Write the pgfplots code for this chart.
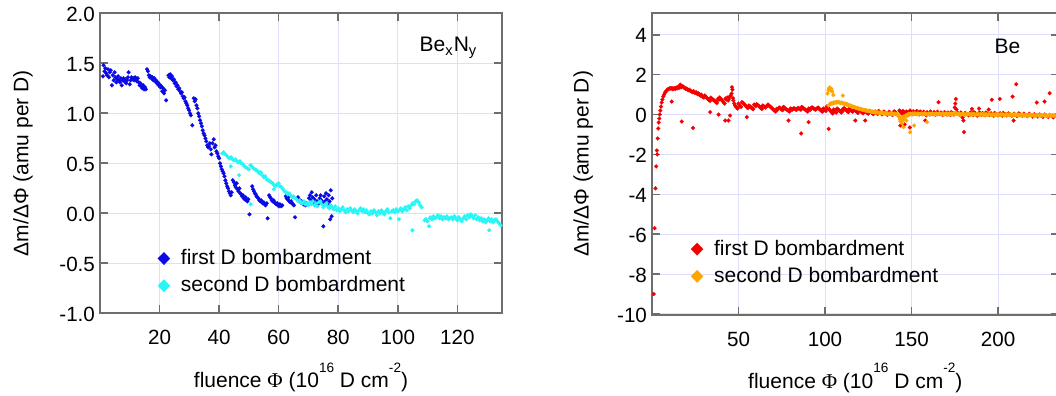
\documentclass[border=0pt]{standalone}
\usepackage{fontspec}
\setmainfont{Liberation Sans}
\newfontfamily\seriffont{Liberation Serif}
\usepackage{pgfplots}
\pgfplotsset{compat=1.18}
\definecolor{cBlue}{RGB}{10,10,230}
\definecolor{cCyan}{RGB}{40,245,245}
\definecolor{cRed}{RGB}{245,0,0}
\definecolor{cOrange}{RGB}{255,165,0}
\definecolor{axgray}{RGB}{110,110,110}
\definecolor{gridc}{RGB}{222,222,255}
\newcommand{\fs}{\fontsize{10.3}{12.4}\selectfont}
\newcommand{\fl}{\fontsize{10.5}{12.6}\selectfont}
\newcommand{\sups}[1]{\raisebox{0.76em}{\fontsize{6.8}{7}\selectfont #1}}
\pgfplotsset{
  myaxis/.style={
    scale only axis, anchor=south west,
    tick align=inside, major tick length=4pt,
    axis line style={draw=axgray, line width=0.9pt},
    every tick/.style={draw=axgray, line width=0.8pt},
    grid=major, major grid style={draw=gridc, line width=0.5pt},
    /pgf/number format/assume math mode=true,
    tick label style={font=\fs},
    xticklabel style={yshift=-5pt},
    yticklabel style={xshift=1pt, yshift=-0.5pt},
    label style={font=\fl},
    legend style={font=\fl, draw=none, fill=none, inner sep=0pt, row sep=2.5pt,
      nodes={inner sep=1pt}},
    legend cell align=left,
    legend image code/.code={\path[#1] plot[mark size=3.1pt] coordinates {(0pt,0pt)};
      \path[draw=none, fill=none] (0pt,0pt) (7.5pt,0pt);},
    xlabel={fluence {\seriffont Φ} (10\sups{16} D cm\sups{-2})},
    ylabel={Δm/ΔΦ (amu per D)},
  },
  pts/.style={only marks, mark=diamond*, mark size=1.0pt, color=#1,
    mark options={xscale=1.3, line width=0.1pt}},
}
\begin{document}
\begin{tikzpicture}
% ---------------- left panel ----------------
\begin{axis}[myaxis,
  at={(50pt,41.35pt)}, width=201pt, height=150pt,
  xmin=0, xmax=135, ymin=-1.0, ymax=2.0,
  xtick={20,40,60,80,100,120},
  ytick={-1.0,-0.5,0,0.5,1.0,1.5,2.0},
  yticklabel style={/pgf/number format/.cd, fixed, fixed zerofill, precision=1},
  xlabel style={at={(axis description cs:0.5,-0.249)}, anchor=base},
  ylabel style={at={(axis description cs:-0.1915,0.5)}, anchor=center},
  legend style={at={(axis description cs:0.143,0.221)}, anchor=north west},
]
\addplot[pts=cBlue] coordinates {
(1.0,1.37)(1.2,1.48)(1.5,1.42)(1.8,1.45)(2.1,1.40)(2.4,1.38)(2.7,1.44)(3.0,1.36)(3.3,1.41)(3.6,1.43)
(4.0,1.28)(4.3,1.38)(4.6,1.33)(4.9,1.41)(5.2,1.36)(5.5,1.31)(5.8,1.34)(6.1,1.37)(6.4,1.33)(6.7,1.31)
(7.0,1.35)(7.3,1.28)(7.6,1.33)(7.9,1.35)(8.2,1.32)(8.5,1.34)(8.8,1.30)(9.1,1.33)(9.4,1.36)(9.6,1.41)
(10.0,1.29)(10.3,1.33)(10.6,1.36)(10.9,1.34)(11.2,1.35)(11.5,1.33)(11.8,1.36)(12.1,1.34)(12.4,1.32)(12.7,1.35)
(13.0,1.31)(13.3,1.28)(13.6,1.30)(13.9,1.27)(14.2,1.25)(14.5,1.28)(14.8,1.24)(15.1,1.26)(15.4,1.24)
(15.8,1.44)(16.1,1.42)(16.4,1.38)(16.7,1.36)(17.0,1.37)(17.3,1.35)(17.6,1.36)(17.9,1.33)(18.2,1.35)(18.5,1.32)
(18.8,1.33)(19.1,1.30)(19.4,1.31)(19.7,1.28)(20.0,1.29)(20.3,1.26)(20.6,1.27)(20.9,1.22)(21.2,1.25)(21.5,1.20)
(21.8,1.23)(22.2,1.13)
(23.0,1.38)(23.3,1.36)(23.6,1.39)(23.9,1.35)(24.2,1.37)(24.5,1.33)(24.8,1.34)(25.1,1.30)(25.4,1.31)(25.7,1.27)
(26.0,1.28)(26.3,1.24)(26.6,1.25)(26.9,1.22)(27.2,1.20)(27.5,1.21)(27.8,1.17)(28.1,1.15)(28.4,1.16)(28.7,1.12)
(29.0,1.10)(29.3,1.08)(29.6,1.05)(29.9,1.03)(30.2,1.00)(30.5,0.98)(31.0,0.88)(31.5,1.15)(31.8,1.12)(32.1,1.14)
(32.4,1.08)(32.7,1.05)(33.0,1.00)(33.3,0.97)(33.6,0.93)(33.9,0.90)(34.2,0.87)(34.5,0.83)(34.8,0.80)(35.1,0.78)
(35.4,0.75)(35.7,0.72)(36.0,0.68)(36.3,0.66)(36.6,0.67)(36.9,0.70)(37.2,0.64)(37.4,0.59)(37.8,0.70)(38.2,0.74)
(38.5,0.66)(38.8,0.68)(39.1,0.62)(39.4,0.60)(39.7,0.57)(40.0,0.55)(40.3,0.50)(40.6,0.47)(40.9,0.44)(41.2,0.42)
(41.5,0.40)(41.8,0.37)(42.1,0.33)(42.4,0.30)(42.7,0.27)(43.0,0.25)(43.3,0.22)(43.6,0.20)(43.9,0.18)(44.2,0.21)
(44.6,0.33)(45.0,0.31)(45.3,0.28)(45.6,0.26)(45.9,0.30)(46.2,0.24)(46.5,0.22)(46.8,0.25)(47.1,0.20)(47.4,0.19)
(47.7,0.17)(48.0,0.18)(48.3,0.15)(48.6,0.14)(48.9,0.16)(49.2,0.13)(49.5,0.12)(49.8,0.14)(50.2,-0.01)
(51.1,0.27)(51.4,0.24)(51.7,0.22)(52.0,0.20)(52.3,0.19)(52.6,0.17)(52.9,0.16)(53.2,0.15)(53.5,0.13)(53.8,0.12)
(54.1,0.13)(54.4,0.11)(54.7,0.10)(55.0,0.11)(55.3,0.09)(55.6,0.08)(56.0,0.10)(56.3,-0.05)
(56.8,0.18)(57.1,0.16)(57.4,0.15)(57.7,0.13)(58.0,0.12)(58.3,0.13)(58.6,0.11)(58.9,0.10)(59.2,0.09)(59.5,0.10)
(59.8,0.08)(60.1,0.07)(60.4,0.09)(60.8,0.07)(61.2,0.08)
(62.4,0.17)(62.7,0.15)(63.0,0.14)(63.3,0.16)(63.6,0.12)(63.9,0.11)(64.2,0.12)(64.5,0.10)(64.8,0.09)(65.1,0.08)(65.5,-0.04)
(66.5,0.16)(66.8,0.14)(67.1,0.13)(67.4,0.11)(67.7,0.12)(68.0,0.10)(68.3,0.09)(68.6,0.11)(69.0,0.08)(69.4,0.10)
(70.2,0.15)(70.5,0.18)(70.8,0.13)(71.1,0.21)(71.4,0.16)(71.7,0.12)(72.0,0.14)(72.3,0.10)(72.6,0.18)(72.9,0.12)
(73.2,0.09)(73.5,0.11)(73.8,0.15)(74.1,0.18)(74.4,0.13)(74.7,0.10)(75.0,-0.13)(75.3,0.17)(75.6,0.12)(75.9,0.20)
(76.2,0.14)(76.5,0.09)(76.8,0.18)(77.1,0.12)(77.3,-0.06)(77.5,0.23)(77.8,-0.03)(78.0,0.15)
};
\addlegendentry{first D bombardment}
\addplot[pts=cCyan] coordinates {
(41.1,0.60)(41.5,0.61)(42.0,0.59)(42.5,0.58)(43.0,0.56)(43.5,0.55)(43.9,0.47)(44.0,0.56)(44.5,0.54)(45.0,0.53)
(45.5,0.54)(46.0,0.52)(46.5,0.51)(46.7,0.38)(47.0,0.52)(47.5,0.50)(48.0,0.49)(48.5,0.47)(49.0,0.46)(49.5,0.45)
(50.0,0.44)(50.5,0.48)(50.6,0.09)(51.0,0.47)(51.5,0.45)(52.0,0.44)(52.5,0.43)(53.0,0.42)(53.5,0.40)(54.0,0.41)
(54.5,0.38)(55.0,0.36)(55.5,0.37)(56.0,0.34)(56.5,0.33)(57.0,0.32)(57.5,0.31)(58.0,0.30)(58.4,0.24)(58.5,0.28)
(59.0,0.27)(59.5,0.29)(60.0,0.30)(60.5,0.27)(61.0,0.26)(61.5,0.24)(62.0,0.22)(62.5,0.21)(63.0,0.19)(63.5,0.20)
(64.0,0.18)(64.5,0.16)(65.0,0.17)(65.5,0.15)(66.0,0.14)(66.5,0.12)(67.0,0.13)(67.5,0.11)(68.0,0.10)(68.5,0.12)
(69.0,0.09)(69.5,0.10)(70.0,0.08)(70.5,0.11)(71.0,0.09)(71.5,0.12)(72.0,0.08)(72.5,0.10)(73.0,0.07)(73.5,0.11)
(74.0,0.12)(74.5,0.09)(75.0,0.06)(75.5,0.08)(76.0,0.10)(76.5,0.07)(77.0,0.05)(77.5,0.08)(78.0,0.06)(78.5,0.04)
(79.0,0.07)(79.5,0.03)(80.0,0.05)(80.5,0.02)(81.0,0.04)(81.5,0.06)(82.0,0.03)(82.5,0.01)(83.0,0.04)(83.5,0.02)
(84.0,0.05)(84.5,0.03)(85.0,0.01)(85.5,0.04)(86.0,0.02)(86.5,0.00)(87.0,0.03)(87.5,0.05)(88.0,0.02)(88.5,0.04)
(89.0,0.01)(89.5,0.03)(90.0,0.00)(90.5,-0.01)(91.0,0.02)(91.5,0.00)(92.0,0.03)(92.5,0.01)(93.0,-0.02)(93.5,0.02)
(94.0,0.00)(94.5,0.03)(95.0,0.01)(95.5,-0.01)(96.0,0.02)(96.5,0.04)(97.0,0.01)(97.5,-0.05)(98.0,0.02)(98.5,0.03)
(99.0,0.01)(99.5,0.04)(100.0,0.02)(100.4,-0.06)(100.5,0.03)(101.0,0.05)(101.5,0.02)(102.0,0.04)(102.5,0.06)(103.0,0.03)
(103.5,0.07)(104.0,0.05)(104.5,0.08)(104.9,-0.17)(105.0,0.10)(105.5,0.09)(106.0,0.12)(106.5,0.13)(107.0,0.11)(107.5,0.08)
(108.0,0.06)(109.0,-0.07)(109.5,-0.06)(110.0,-0.08)(110.5,-0.13)(110.8,-0.05)(111.0,-0.04)(111.5,-0.06)(112.0,-0.03)(112.5,-0.05)
(113.0,-0.04)(113.5,-0.02)(114.0,-0.05)(114.5,-0.03)(115.0,-0.06)(115.5,-0.04)(116.0,-0.05)(116.5,-0.03)(117.0,-0.06)(117.5,-0.05)
(118.0,-0.04)(118.5,-0.06)(119.0,-0.03)(119.5,-0.05)(120.0,-0.07)(120.5,-0.04)(121.0,-0.06)(121.5,-0.08)(122.0,-0.05)(122.5,-0.03)
(123.0,-0.06)(123.5,-0.02)(124.0,-0.04)(124.5,-0.01)(125.0,-0.03)(125.5,-0.05)(126.0,-0.02)(126.5,-0.06)(127.0,-0.04)(127.5,-0.07)
(128.0,-0.05)(128.5,-0.08)(129.0,-0.06)(129.5,-0.09)(130.0,-0.07)(130.7,-0.17)(130.5,-0.05)(131.0,-0.08)(131.5,-0.06)(132.0,-0.09)
(132.5,-0.07)(133.0,-0.06)(133.5,-0.08)(134.0,-0.10)(134.6,-0.12)
};
\addlegendentry{second D bombardment}
\node[anchor=base west, font=\fl] at (axis cs:105,1.613) {Be\textsubscript{x}N\textsubscript{y}};
\end{axis}
% ---------------- right panel ----------------
\begin{axis}[myaxis,
  at={(326pt,40.5pt)}, width=203.3pt, height=151.1pt,
  xmin=0, xmax=235, ymin=-10.05, ymax=5.1,
  xtick={50,100,150,200},
  ytick={-10,-8,-6,-4,-2,0,2,4},
  xlabel style={at={(axis description cs:0.5,-0.2416)}, anchor=base},
  ylabel style={at={(axis description cs:-0.169,0.5)}, anchor=center},
  legend style={at={(axis description cs:0.095,0.256)}, anchor=north west},
]
\addplot[pts=cRed] coordinates {
(1.0,-9.0)(1.5,-5.7)(2.0,-3.7)(2.4,-2.6)(2.8,-1.8)(3.0,-2.0)(3.3,-1.2)(3.6,-0.7)(3.9,-0.4)(4.2,-0.2)
(4.5,0.0)(4.8,0.2)(5.2,0.4)(5.6,0.6)(6.0,0.75)(6.5,0.9)(7.0,1.0)(7.5,1.1)(8.0,1.15)(8.5,1.2)
(9.0,1.25)(9.5,1.28)(10.0,1.3)(10.5,1.32)(11.0,1.30)(11.4,0.65)(11.5,1.33)(12.0,1.27)(12.5,1.30)(13.0,1.32)
(13.5,1.28)(14.0,1.35)(14.5,1.31)(15.0,1.38)(15.5,1.33)(16.0,1.40)(16.3,1.50)(16.8,1.36)(17.2,-0.35)(17.5,1.42)
(18.0,1.40)(18.5,1.36)(19.0,1.32)(19.5,1.28)(20.0,1.30)(20.5,1.26)(21.0,1.22)(21.5,1.25)(22.0,1.20)(22.5,1.18)
(23.0,1.15)(23.5,1.12)(23.7,-0.67)(24.0,1.17)(24.5,1.10)(25.0,1.08)(25.5,1.12)(26.0,1.05)(26.5,1.02)(27.0,1.06)
(27.5,0.98)(28.0,0.95)(28.5,1.00)(29.0,0.92)(29.5,0.88)(30.0,0.85)(30.5,0.95)(31.0,0.90)(31.5,0.86)(32.0,0.80)
(32.5,0.76)(33.0,0.72)(33.5,0.68)(33.6,0.12)(34.0,0.85)(34.5,0.80)(35.0,0.77)(35.5,0.73)(36.0,0.70)(36.5,0.66)
(37.0,0.62)(37.5,0.58)(38.0,0.78)(38.5,0.0)(38.6,0.74)(39.0,0.85)(39.5,0.80)(40.0,0.76)(40.5,0.71)(41.0,0.66)
(41.5,0.60)(42.0,0.55)(42.3,-0.30)(42.5,0.80)(43.0,0.75)(43.5,0.85)(44.0,0.70)(44.2,-0.30)(44.5,0.78)(45.0,0.90)
(45.1,-0.05)(45.5,0.95)(46.0,1.05)(46.2,1.37)(46.5,1.25)(46.8,0.82)(47.0,0.70)(47.5,0.55)(48.0,0.45)(48.5,0.40)
(49.0,0.35)(49.5,0.30)(50.0,0.55)(50.5,0.48)(51.0,0.42)(51.5,0.38)(52.0,0.62)(52.5,0.58)(53.0,0.55)(53.5,0.50)
(54.0,0.45)(54.5,0.40)(54.8,-0.13)(55.0,0.35)(55.5,0.32)(56.0,0.45)(56.5,0.42)(57.0,0.38)(57.5,0.33)(58.0,0.30)
(58.5,0.27)(59.0,0.50)(59.5,0.46)(60.0,0.42)(60.5,0.52)(61.0,0.48)(61.5,0.44)(62.0,0.40)(62.5,0.36)(63.0,0.32)
(63.5,0.28)(64.0,0.45)(64.5,0.42)(65.0,0.38)(65.5,0.35)(66.0,0.40)(66.5,0.44)(67.0,0.50)(67.5,0.46)(68.0,0.42)
(68.5,0.38)(69.0,0.34)(69.5,0.30)(70.0,0.26)(70.5,0.22)(71.0,0.18)(71.5,0.15)(72.0,0.28)(72.5,0.25)(73.0,0.30)
(73.5,0.35)(74.0,0.32)(74.5,0.28)(75.0,0.25)(75.5,0.22)(76.0,0.38)(76.5,0.34)(77.0,0.30)(77.5,0.27)(78.0,0.24)
(78.5,0.21)(78.9,-0.30)(79.0,0.18)(79.5,0.15)(80.0,0.30)(80.5,0.27)(81.0,0.24)(81.5,0.28)(82.0,0.32)(82.5,0.29)
(83.0,0.26)(83.5,0.23)(84.0,0.30)(84.5,0.33)(85.0,0.30)(85.5,0.27)(86.0,0.24)(86.2,-0.95)(86.5,0.38)(87.0,0.35)
(87.5,0.32)(88.0,0.28)(88.5,0.25)(89.0,0.22)(89.5,0.18)(90.0,0.15)(90.5,-0.38)(90.6,0.30)(91.0,0.27)(91.5,0.24)
(92.0,0.33)(92.5,0.36)(93.0,0.33)(93.5,0.30)(94.0,0.27)(94.5,0.24)(95.0,0.28)(95.5,0.32)(96.0,0.35)(96.5,0.30)
(97.0,0.26)(97.5,0.22)(98.0,0.18)(98.5,0.14)(99.0,0.30)(99.5,0.26)(100.0,0.22)(100.5,0.18)(101.0,0.40)(101.5,0.35)
(102.0,0.30)(102.1,-0.72)(102.5,0.25)(103.0,0.20)(103.5,0.15)(104.0,0.10)(104.5,0.05)(105.0,0.25)(105.5,0.20)(106.0,0.15)
(106.5,0.10)(107.0,0.30)(107.5,0.26)(108.0,0.22)(108.5,0.18)(109.0,0.14)(109.5,0.10)(110.0,0.25)(110.5,0.20)(111.0,0.32)
(111.5,0.28)(112.0,0.24)(112.5,0.20)(113.0,0.16)(113.5,0.12)(114.0,0.30)(114.5,0.26)(115.0,0.22)(115.5,0.18)(116.0,0.14)
(117.0,0.25)(117.5,-0.30)(117.6,0.20)(118.0,0.16)(118.5,0.12)(119.0,0.08)(120.0,0.22)(120.5,0.18)(121.0,0.14)(121.5,0.10)
(122.0,0.06)(123.0,0.20)(123.2,-0.30)(123.5,0.16)(124.0,0.12)(124.5,0.08)(125.0,0.04)(126.0,0.18)(126.5,0.14)(127.0,0.10)
(127.5,0.06)(128.0,0.02)(129.0,0.15)(129.5,0.11)(130.0,0.07)(130.5,0.03)(131.0,0.18)(131.5,0.13)(132.0,0.09)(132.5,0.05)
(133.0,0.01)(134.0,0.15)(134.5,0.11)(135.0,0.07)(135.5,0.03)(136.0,-0.01)(137.0,0.14)(137.5,0.10)(138.0,0.06)(138.5,0.02)
(139.0,-0.02)(140.0,0.16)(140.5,0.12)(141.0,0.08)(141.5,0.04)(142.0,0.00)(143.0,0.20)(143.5,-0.55)(143.6,0.15)(144.0,0.10)
(144.5,0.05)(145.0,0.18)(145.5,0.12)(146.0,-0.50)(146.1,0.06)(147.0,0.15)(147.5,0.10)(148.0,0.05)(148.5,0.00)(149.0,-0.65)
(149.1,0.20)(149.5,0.14)(150.0,0.08)(150.5,0.02)(151.0,0.16)(151.5,0.10)(152.0,0.04)(153.0,0.18)(153.5,0.12)(154.0,0.06)
(154.5,0.00)(155.0,0.15)(155.5,0.09)(156.0,0.03)(157.0,0.14)(157.5,0.08)(157.9,-0.30)(158.0,0.02)(158.5,-0.04)(159.0,0.12)
(160.0,0.06)(160.5,0.00)(161.0,0.15)(161.5,0.09)(162.0,0.03)(163.0,0.12)(163.5,0.06)(164.0,0.00)(165.0,0.14)(165.6,0.62)
(165.5,0.08)(166.0,0.02)(167.0,0.10)(167.5,0.04)(168.0,-0.02)(169.0,0.12)(170.0,0.06)(170.5,0.00)(171.0,0.10)(172.0,0.04)
(172.5,-0.02)(173.0,0.12)(174.0,0.06)(174.5,0.00)(175.0,0.35)(175.3,0.55)(175.6,0.78)(176.0,0.25)(176.5,0.10)(177.0,0.04)
(178.0,-0.02)(178.5,0.10)(179.0,0.04)(179.5,-0.15)(180.0,-0.30)(180.3,-0.88)(181.0,0.08)(182.0,0.02)(183.0,-0.04)(184.0,0.10)
(184.9,0.28)(185.0,0.04)(185.5,-0.02)(186.0,0.12)(187.0,0.06)(187.5,0.00)(188.0,-0.06)(189.0,0.30)(189.2,0.10)(190.0,0.04)
(190.5,-0.02)(191.0,0.08)(192.0,0.02)(192.5,-0.04)(193.0,0.10)(194.0,0.04)(194.6,0.25)(195.0,-0.02)(196.0,0.06)(196.4,0.74)
(197.0,0.00)(197.5,-0.06)(198.0,0.08)(199.0,0.02)(200.0,-0.04)(201.0,0.78)(201.2,0.06)(202.0,0.00)(202.5,-0.06)(203.0,0.08)
(204.0,0.02)(205.0,-0.04)(206.0,0.06)(207.0,0.00)(208.0,-0.06)(208.4,0.90)(209.0,-0.30)(209.3,0.04)(210.0,-0.02)(210.5,1.52)
(211.0,-0.08)(212.0,0.06)(213.0,0.00)(214.0,-0.06)(215.0,0.04)(216.0,-0.02)(217.0,-0.08)(218.0,0.04)(219.0,-0.02)(220.0,-0.10)
(221.0,0.02)(222.0,-0.04)(222.4,0.60)(223.0,-0.10)(224.0,0.00)(225.0,-0.06)(226.0,-0.12)(226.9,0.65)(227.0,0.00)(228.0,-0.06)
(229.0,-0.12)(229.8,1.07)(230.0,-0.02)(231.0,-0.08)(232.0,-0.14)(233.0,-0.04)(234.0,-0.10)
};
\addlegendentry{first D bombardment}
\addplot[pts=cOrange] coordinates {
(101.5,1.05)(102.0,1.22)(102.3,1.30)(102.6,1.35)(102.9,1.25)(103.2,1.32)(103.5,1.20)(103.8,1.28)(104.2,1.15)(104.8,0.98)(110.3,0.95)
(102.0,0.45)(102.5,0.50)(103.0,0.55)(103.5,0.52)(104.0,0.58)(104.5,0.56)(105.0,0.60)(105.5,0.58)(106.0,0.62)(106.5,0.60)
(107.0,0.63)(107.5,0.61)(108.0,0.62)(108.5,0.60)(109.0,0.58)(109.5,0.60)(110.0,0.57)(110.5,0.55)(111.0,0.56)(111.5,0.53)
(112.0,0.54)(112.5,0.50)(113.0,0.51)(113.5,0.47)(114.0,0.45)(114.5,0.46)(115.0,0.42)(115.5,0.40)(116.0,0.41)(116.5,0.37)
(117.0,0.38)(117.5,0.35)(118.0,0.33)(118.5,0.34)(119.0,0.31)(119.5,0.30)(120.0,0.28)(120.5,0.29)(121.0,0.26)(121.5,0.25)
(122.0,0.23)(122.5,0.24)(123.0,0.22)(123.5,0.20)(124.0,0.21)(124.5,0.18)(125.0,0.17)(125.5,0.19)(126.0,0.16)(126.5,0.15)
(127.0,0.13)(127.5,0.15)(128.0,0.12)(128.5,0.11)(129.0,0.13)(129.5,0.10)(130.0,0.12)(130.5,0.09)(131.0,0.10)(131.5,0.08)
(132.0,0.11)(132.5,0.07)(133.0,0.09)(133.5,0.06)(134.0,0.08)(134.5,0.05)(135.0,0.07)(135.5,0.04)(136.0,0.06)(136.5,0.03)
(137.0,0.05)(137.5,0.02)(138.0,0.06)(138.5,0.03)(139.0,0.04)(139.5,0.01)(140.0,0.05)(140.5,0.02)(141.0,0.04)(141.5,0.00)
(142.0,0.03)(142.5,-0.05)(143.0,-0.15)(143.3,-0.25)(143.6,-0.35)(144.0,-0.28)(144.3,-0.20)(144.5,-0.45)(144.6,-0.12)(145.0,-0.30)
(145.3,-0.22)(145.4,-0.63)(145.6,-0.10)(146.0,-0.15)(146.5,-0.05)(147.0,-0.30)(147.2,-0.08)(147.5,0.00)(148.0,-0.02)(148.5,0.03)
(149.0,0.01)(149.2,-0.89)(149.5,0.04)(150.0,0.02)(150.5,0.05)(151.0,0.03)(151.5,-0.55)(151.6,0.06)(152.0,0.02)(152.5,0.04)
(153.0,0.01)(153.5,0.05)(154.0,0.03)(154.5,0.00)(155.0,0.04)(155.5,0.02)(156.0,0.05)(156.5,0.01)(157.0,0.03)(157.5,0.06)
(158.0,0.02)(158.5,0.04)(158.9,-0.38)(159.0,0.00)(159.5,0.03)(160.0,0.05)(160.5,0.01)(161.0,0.04)(161.5,0.02)(162.0,0.06)
(162.5,0.03)(163.0,0.00)(163.5,0.04)(164.0,0.02)(164.5,0.05)(165.0,0.01)(165.5,0.03)(166.0,0.06)(166.5,0.02)(167.0,0.04)
(167.5,0.00)(168.0,0.03)(168.5,0.05)(169.0,0.01)(169.5,0.04)(170.0,0.02)(170.5,0.06)(171.0,0.03)(171.5,0.00)(172.0,0.04)
(172.5,0.02)(173.0,0.05)(173.5,0.01)(174.0,0.03)(174.5,0.07)(175.0,0.04)(175.5,0.10)(176.0,0.06)(176.5,0.02)(177.0,0.04)
(177.5,0.00)(178.0,0.03)(178.5,-0.01)(179.0,0.02)(179.5,0.04)(180.0,0.00)(180.5,0.03)(181.0,-0.02)(181.5,0.02)(182.0,0.04)
(182.5,0.00)(183.0,0.03)(183.5,0.01)(184.0,-0.01)(184.5,0.03)(185.0,0.00)(185.5,0.02)(186.0,0.04)(186.5,0.01)(187.0,-0.02)
(187.5,0.02)(188.0,0.00)(188.5,0.03)(189.0,0.01)(189.5,-0.02)(190.0,0.02)(190.5,0.00)(191.0,0.03)(191.5,-0.01)(192.0,0.01)
(192.5,-0.03)(193.0,0.02)(193.5,0.00)(194.0,-0.02)(194.5,0.01)(195.0,0.03)(195.5,-0.01)(196.0,0.00)(196.5,-0.03)(197.0,0.02)
(197.5,0.00)(198.0,-0.02)(198.5,0.01)(199.0,-0.01)(199.5,0.02)(200.0,-0.02)(200.5,0.00)(201.0,-0.03)(201.5,0.01)(202.0,-0.01)
(202.5,0.02)(203.0,-0.02)(203.5,0.00)(204.0,-0.04)(204.5,-0.01)(205.0,0.01)(205.5,-0.02)(206.0,0.00)(206.5,-0.03)(207.0,0.01)
(207.5,-0.01)(208.0,-0.04)(208.5,0.00)(209.0,-0.02)(209.5,0.01)(210.0,-0.03)(210.5,-0.01)(211.0,-0.04)(211.5,0.00)(212.0,-0.02)
(212.5,-0.05)(213.0,-0.01)(213.5,-0.03)(214.0,0.00)(214.5,-0.04)(215.0,-0.02)(215.5,-0.05)(216.0,-0.01)(216.5,-0.03)(217.0,-0.06)
(217.5,-0.02)(218.0,-0.04)(218.5,0.00)(219.0,-0.03)(219.5,-0.05)(220.0,-0.02)(220.5,-0.04)(221.0,-0.07)(221.5,-0.03)(222.0,-0.05)
(222.5,-0.01)(223.0,-0.04)(223.5,-0.06)(224.0,-0.02)(224.5,-0.05)(225.0,-0.03)(225.5,-0.07)(226.0,-0.04)(226.5,-0.02)(227.0,-0.06)
(227.5,-0.03)(228.0,-0.05)(228.5,-0.08)(229.0,-0.04)(229.5,-0.06)(230.0,-0.02)(230.5,-0.05)(231.0,-0.07)(231.5,-0.03)(232.0,-0.06)
(232.5,-0.04)(233.0,-0.08)(233.5,-0.05)(234.0,-0.03)(234.5,-0.06)
};
\addlegendentry{second D bombardment}
\node[anchor=base west, font=\fl] at (axis cs:193.9,3.04) {Be};
\end{axis}
\pgfresetboundingbox
\useasboundingbox (0,0) rectangle (528pt,198pt);
\end{tikzpicture}
\end{document}
